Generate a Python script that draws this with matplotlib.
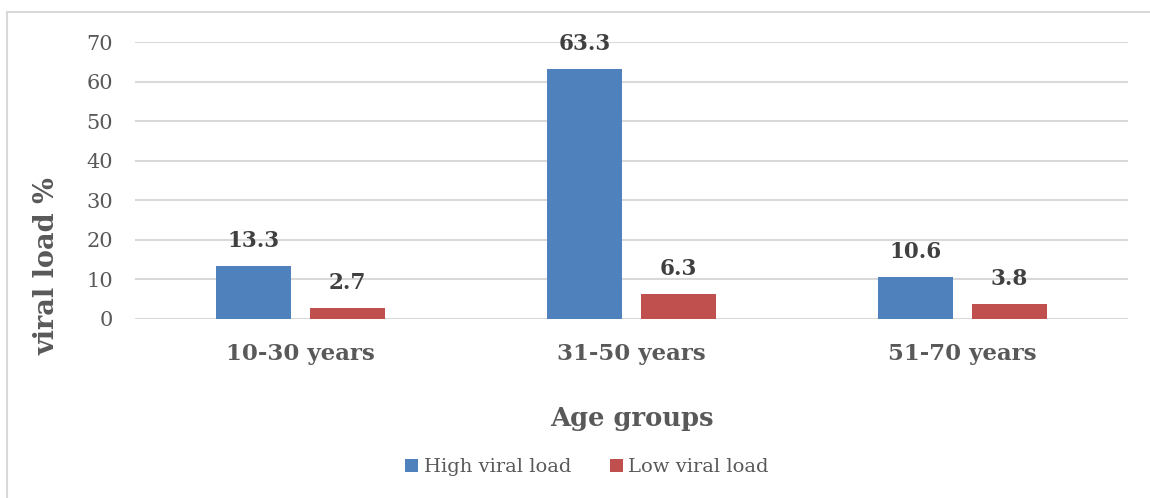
import matplotlib
matplotlib.use("Agg")
import matplotlib.pyplot as plt
import numpy as np
from matplotlib.patches import Rectangle

categories = ["10-30 years", "31-50 years", "51-70 years"]
high_viral = [13.3, 63.3, 10.6]
low_viral = [2.7, 6.3, 3.8]
series_names = ["High viral load", "Low viral load"]
yticks = [0, 10, 20, 30, 40, 50, 60, 70]

plt.rcParams['font.family'] = ['DejaVu Serif']
W, H = 1150, 498
fig = plt.figure(figsize=(W/100, H/100), dpi=100)
ax = fig.add_axes([135/W, 1-319/H, (1128-135)/W, (319-42)/H])

x = np.arange(len(categories))
bw = 0.224
off = 0.142
blue = "#4F81BD"
red = "#C0504D"
b1 = ax.bar(x - off, high_viral, bw, color=blue, label=series_names[0], zorder=3)
b2 = ax.bar(x + off, low_viral, bw, color=red, label=series_names[1], zorder=3)

for bars, vals in ((b1, high_viral), (b2, low_viral)):
    for r, v in zip(bars, vals):
        ax.annotate(f"{v}", (r.get_x() + r.get_width()/2, v), xytext=(0, 10),
                    textcoords="offset points", ha="center", va="bottom",
                    fontsize=15.5, fontweight="bold", color="#404040")

ax.set_xlim(-0.5, 2.5)
ax.set_ylim(0, 70)
ax.set_yticks(yticks)
ax.yaxis.grid(True, color="#D9D9D9", linewidth=1.5, zorder=0)
ax.set_axisbelow(True)
for s in ax.spines.values():
    s.set_visible(False)
ax.tick_params(axis="y", length=0, labelsize=15, labelcolor="#595959", pad=16)
ax.set_xticks(x)
ax.set_xticklabels(categories, fontsize=16.5, fontweight="bold", color="#595959")
ax.tick_params(axis="x", length=0, pad=17)
ax.set_xlabel("Age groups", fontsize=18.5, fontweight="bold", color="#595959", labelpad=30)
ax.set_ylabel("viral load %", fontsize=19.5, fontweight="bold", color="#595959")
ax.yaxis.set_label_coords(-74/993, 0.19)

leg = fig.legend(handles=[b1, b2], labels=series_names, loc="center", bbox_to_anchor=(587/W, 1-467/H),
                 ncol=2, frameon=False, fontsize=14, handlelength=0.65, handleheight=0.65,
                 handletextpad=0.3, columnspacing=2.0)
for t in leg.get_texts():
    t.set_color("#595959")

fig.patches.append(Rectangle((7/W, -0.1), 1.2, 1-12/H+0.1, transform=fig.transFigure,
                             fill=False, edgecolor="#D9D9D9", linewidth=1.5))
fig.savefig("out.png", dpi=100)
